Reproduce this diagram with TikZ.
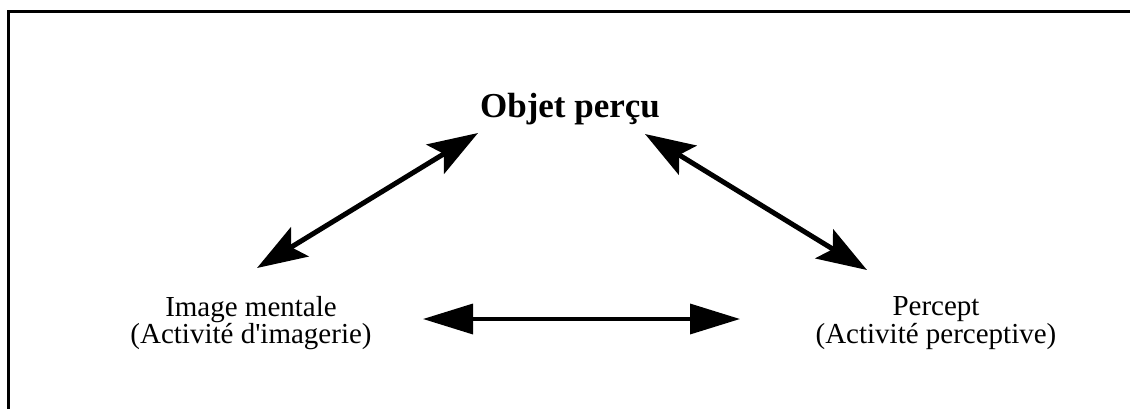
\documentclass[tikz,border=0pt]{standalone}
\usepackage{fontspec}
\setmainfont{Liberation Serif}
\usetikzlibrary{arrows.meta}

\begin{document}
\begin{tikzpicture}[x=1pt, y=-1pt,
        titre/.style={inner sep=0pt, font=\fontsize{35}{40}\selectfont\bfseries},
        etiquette/.style={align=center, inner sep=0pt, font=\fontsize{29}{25}\selectfont},
        fleche/.style={{Stealth[length=50pt, width=34pt, inset=10pt]}-{Stealth[length=50pt, width=34pt, inset=10pt]}, line width=5pt},
        fleche plate/.style={{Triangle[length=50pt, width=30pt]}-{Triangle[length=50pt, width=30pt]}, line width=3.5pt}]

    % Cadre (coupe a droite et en bas)
    \clip (0,0) rectangle (1130,408);
    \draw[line width=3pt] (8.5,430) -- (8.5,11.5) -- (1150,11.5);

    % Textes
    \node[titre, anchor=base] (objet) at (570,117) {Objet perçu};
    \node[etiquette] (image) at (251,323) {Image mentale\\(Activité d\textquotesingle imagerie)};
    \node[etiquette] (percept) at (936,323) {Percept\\(Activité perceptive)};

    % Extremites des fleches
    \coordinate (imageN) at (257,268);
    \coordinate (objetW) at (478,133);
    \coordinate (objetE) at (645,134);
    \coordinate (perceptN) at (867,270);
    \coordinate (imageE) at (423,319);
    \coordinate (perceptW) at (740,319);

    % Fleches
    \draw[fleche] (imageN) -- (objetW);
    \draw[fleche] (objetE) -- (perceptN);
    \draw[fleche plate] (imageE) -- (perceptW);

\end{tikzpicture}
\end{document}
